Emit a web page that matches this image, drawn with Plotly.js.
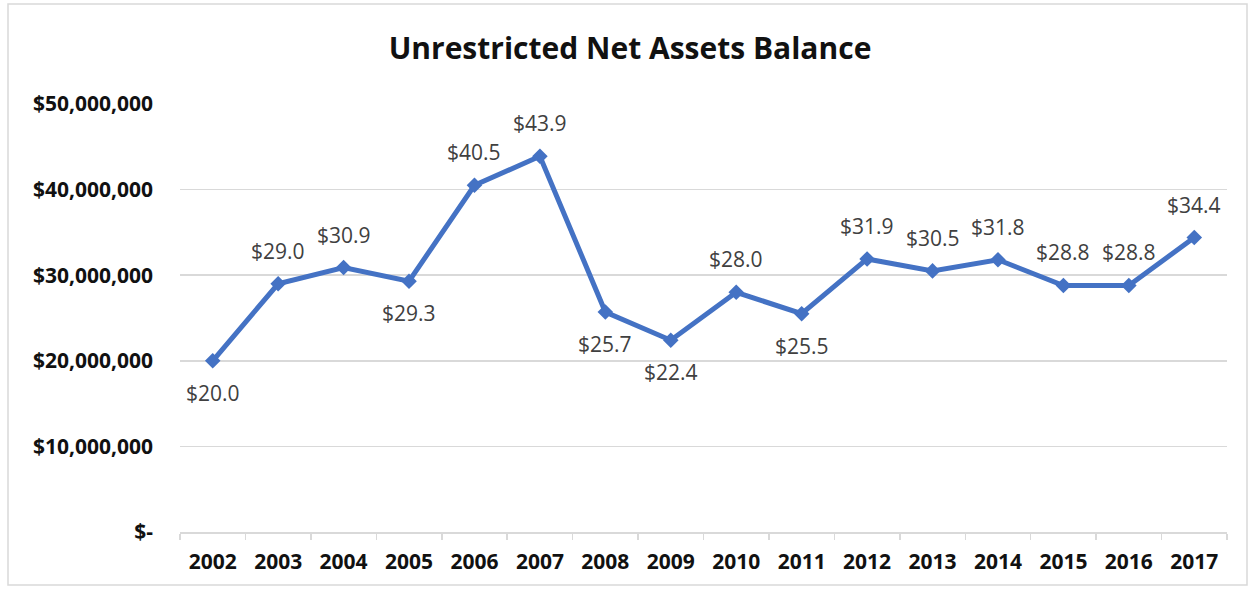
<!DOCTYPE html>
<html>
<head>
<meta charset="utf-8">
<script src="https://cdn.plot.ly/plotly-3.0.1.min.js"></script>
<style>
html,body{margin:0;padding:0;background:#fff;}
#chart{width:1253px;height:590px;}
</style>
</head>
<body>
<div id="chart"></div>
<script>
const years = ["2002","2003","2004","2005","2006","2007","2008","2009","2010","2011","2012","2013","2014","2015","2016","2017"];
const balanceMillions = [20.0, 29.0, 30.9, 29.3, 40.5, 43.9, 25.7, 22.4, 28.0, 25.5, 31.9, 30.5, 31.8, 28.8, 28.8, 34.4];
const labelSide = ["below","above","above","below","above","above","below","below","above","below","above","above","above","above","above","above"];
const yTickValues = [0, 10000000, 20000000, 30000000, 40000000, 50000000];
const yTickLabels = ["$-", "$10,000,000", "$20,000,000", "$30,000,000", "$40,000,000", "$50,000,000"];

const values = balanceMillions.map(v => v * 1e6);

const trace = {
  type: "scatter",
  mode: "lines+markers",
  x: years,
  y: values,
  line: {color: "#4472C4", width: 5},
  marker: {symbol: "diamond", size: 12, color: "#4472C4"},
  hoverinfo: "skip"
};

const annotations = years.map((yr, i) => ({
  x: i,
  y: values[i],
  xref: "x",
  yref: "y",
  text: "$" + balanceMillions[i].toFixed(1),
  showarrow: false,
  yshift: labelSide[i] === "above" ? 33 : -32,
  font: {family: "Open Sans, sans-serif", size: 21, color: "#404040"}
}));

const layout = {
  width: 1253,
  height: 590,
  margin: {l: 180, r: 26, t: 104, b: 58},
  paper_bgcolor: "#ffffff",
  plot_bgcolor: "#ffffff",
  showlegend: false,
  title: {
    text: "Unrestricted Net Assets Balance",
    font: {family: "Open Sans, sans-serif", size: 30, color: "#111111", weight: "bold"},
    x: 630/1253, xref: "container",
    xanchor: "center",
    y: 1 - 48/590, yref: "container", yanchor: "middle"
  },
  xaxis: {
    type: "category",
    range: [-0.5, 15.5],
    showgrid: false,
    zeroline: false,
    showline: true,
    linecolor: "#d9d9d9",
    linewidth: 1.5,
    tickson: "boundaries",
    ticks: "outside",
    ticklen: 6,
    tickcolor: "#d9d9d9",
    tickwidth: 1.5,
    ticklabelstandoff: 10,
    tickfont: {family: "Open Sans, sans-serif", size: 21, color: "#111111", weight: "bold"},
    fixedrange: true
  },
  yaxis: {
    range: [0, 50000000],
    tickvals: yTickValues,
    ticktext: yTickLabels,
    showgrid: true,
    gridcolor: "#d9d9d9",
    gridwidth: 1.5,
    zeroline: false,
    showline: false,
    ticks: "",
    ticklabelstandoff: 26,
    tickfont: {family: "Open Sans, sans-serif", size: 21, color: "#111111", weight: "bold"},
    fixedrange: true
  },
  shapes: [{
    type: "rect", xref: "paper", yref: "paper",
    x0: -172/1047, x1: 1 + 20/1047, y0: -53/428, y1: 1 + 100/428,
    line: {color: "#d9d9d9", width: 1.5}, fillcolor: "rgba(0,0,0,0)"
  }],
  annotations: annotations
};

Plotly.newPlot("chart", [trace], layout, {displayModeBar: false, staticPlot: true});
</script>
</body>
</html>
